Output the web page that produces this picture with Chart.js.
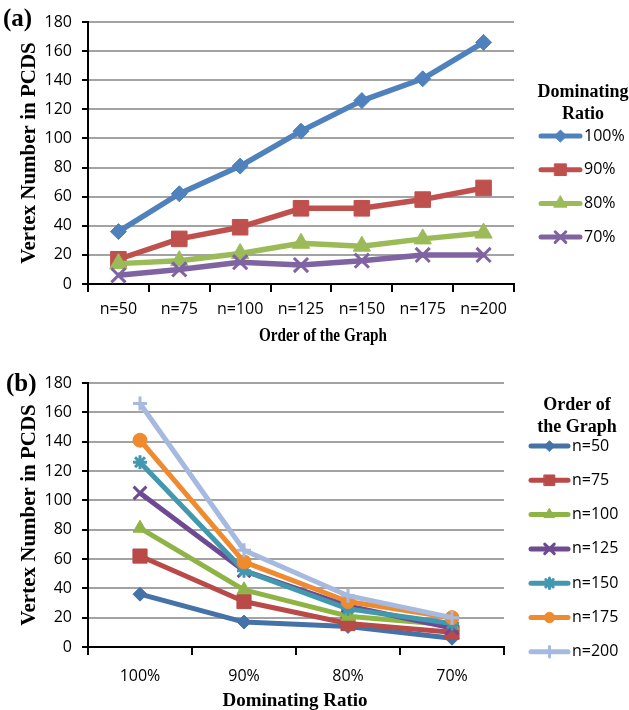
<!DOCTYPE html>
<html>
<head>
<meta charset="utf-8">
<script src="https://cdn.jsdelivr.net/npm/chart.js@4.4.1/dist/chart.umd.min.js"></script>
<style>
  body { margin: 0; background: #fff; }
  .wrap { position: absolute; left: 0; width: 629px; height: 355px; }
</style>
</head>
<body>
<div class="wrap" style="top:0"><canvas id="chartA"></canvas></div>
<div class="wrap" style="top:355px"><canvas id="chartB"></canvas></div>
<script>
// data
const orders = ['n=50', 'n=75', 'n=100', 'n=125', 'n=150', 'n=175', 'n=200'];
const ratios = ['100%', '90%', '80%', '70%'];
const ratio100 = [36, 62, 81, 105, 126, 141, 166];
const ratio90 = [17, 31, 39, 52, 52, 58, 66];
const ratio80 = [14, 16, 21, 28, 26, 31, 35];
const ratio70 = [6, 10, 15, 13, 16, 20, 20];
const yTicks = [0, 20, 40, 60, 80, 100, 120, 140, 160, 180];

const tickFont = { family: '"Open Sans"', size: 16 };
const serif = '"Liberation Serif"';

// legend + panel label + x title, drawn on the canvas
const panelDecor = {
  id: 'panelDecor',
  afterDraw(chart, args, o) {
    const ctx = chart.ctx;
    ctx.save();
    ctx.fillStyle = '#000';
    ctx.textBaseline = 'middle';

    ctx.font = 'bold 25px ' + serif;
    ctx.textAlign = 'left';
    ctx.fillText(o.label, o.labelX, o.labelY);

    ctx.font = 'bold 19px ' + serif;
    ctx.textAlign = 'center';
    ctx.save();
    ctx.translate(o.xTitleX, o.xTitleY);
    ctx.scale(o.xTitleScale, 1);
    ctx.fillText(o.xTitle, 0, 0);
    ctx.restore();

    ctx.font = 'bold 18px ' + serif;
    o.legendTitle.forEach((t, i) => ctx.fillText(t, o.legendTitleX, o.legendTitleY + i * 22));

    ctx.font = '16px "Open Sans"';
    ctx.textAlign = 'left';
    chart.data.datasets.forEach((ds, i) => {
      const y = o.itemY + i * o.itemGap;
      ctx.strokeStyle = ds.borderColor;
      ctx.lineWidth = 5;
      ctx.lineCap = 'round';
      ctx.beginPath();
      ctx.moveTo(o.itemX, y);
      ctx.lineTo(o.itemX + o.lineLen, y);
      ctx.stroke();
      ctx.fillStyle = ds.borderColor;
      ctx.lineWidth = ds.pointBorderWidth;
      Chart.helpers.drawPoint(ctx, {
        pointStyle: ds.pointStyle, radius: ds.pointRadius * 0.75,
        borderWidth: ds.pointBorderWidth, rotation: 0
      }, o.itemX + o.lineLen / 2, y);
      ctx.fillStyle = '#000';
      ctx.fillText(ds.label, o.itemX + o.lineLen + 4, y);
    });
    ctx.restore();
  }
};

function makeSeries(label, data, color, style, radius, bw, width, idx) {
  return {
    label, data,
    borderColor: color, backgroundColor: color,
    borderWidth: width, borderJoinStyle: 'round',
    pointStyle: style, pointRadius: radius, pointHoverRadius: radius,
    pointBackgroundColor: color, pointBorderColor: color, pointBorderWidth: bw,
    order: 10 - idx
  };
}

function axes(xHeight, tickPad) {
  return {
    x: {
      offset: true,
      ticks: { color: '#000', font: tickFont, padding: tickPad, autoSkip: false, maxRotation: 0 },
      grid: { offset: true, drawOnChartArea: false, color: '#000', lineWidth: 2, tickLength: 8 },
      border: { color: '#000', width: 2 },
      afterFit: s => { s.height = xHeight; }
    },
    y: {
      min: 0, max: 180,
      afterBuildTicks: s => { s.ticks = yTicks.map(v => ({ value: v })); },
      ticks: { color: '#000', font: tickFont, padding: 10 },
      grid: { color: '#a3a3a3', lineWidth: 2, tickColor: '#000', tickLength: 6 },
      border: { color: '#000', width: 2 },
      title: {
        display: true, text: 'Vertex Number in PCDS', color: '#000',
        font: { family: serif, size: 21, weight: 'bold' }, padding: { top: 17, bottom: 0 }
      },
      afterFit: s => { s.width = 88; }
    }
  };
}

// (a) one line per dominating ratio
const aColors = ['#4f81bd', '#c0504d', '#9bbb59', '#8064a2'];
const aStyles = ['rectRot', 'rect', 'triangle', 'crossRot'];
const aRadius = [8, 11, 10, 10];
const aBorder = [1, 1, 1, 3];
const aValues = [ratio100, ratio90, ratio80, ratio70];

new Chart('chartA', {
  type: 'line',
  data: {
    labels: orders,
    datasets: ratios.map((r, i) => makeSeries(r, aValues[i], aColors[i], aStyles[i], aRadius[i], aBorder[i], 5.5, i))
  },
  options: {
    responsive: true, maintainAspectRatio: false, animation: false,
    layout: { padding: { top: 22, right: 115, left: 0, bottom: 0 } },
    scales: axes(71, 8),
    plugins: {
      legend: { display: false }, tooltip: { enabled: false },
      panelDecor: {
        label: '(a)', labelX: 3, labelY: 20,
        xTitle: 'Order of the Graph', xTitleX: 323, xTitleY: 336, xTitleScale: 0.8,
        legendTitle: ['Dominating', 'Ratio'], legendTitleX: 583, legendTitleY: 92,
        itemX: 541, lineLen: 39, itemY: 136, itemGap: 33.7
      }
    }
  },
  plugins: [panelDecor]
});

// (b) one line per graph order, same values read the other way
const bColors = ['#4572a7', '#b94a48', '#8fb446', '#6e4a92', '#4198af', '#f08a2e', '#a6b9de'];
const bStyles = ['rectRot', 'rect', 'triangle', 'crossRot', 'star', 'circle', 'cross'];
const bRadius = [7, 10, 8, 9, 7, 7, 7];
const bBorder = [1, 1, 1, 3, 3, 1, 3];

new Chart('chartB', {
  type: 'line',
  data: {
    labels: ratios,
    datasets: orders.map((n, j) => makeSeries(n, aValues.map(s => s[j]), bColors[j], bStyles[j], bRadius[j], bBorder[j], 5, j))
  },
  options: {
    responsive: true, maintainAspectRatio: false, animation: false,
    layout: { padding: { top: 28, right: 125, left: 0, bottom: 0 } },
    scales: axes(63, 12),
    plugins: {
      legend: { display: false }, tooltip: { enabled: false },
      panelDecor: {
        label: '(b)', labelX: 6, labelY: 30,
        xTitle: 'Dominating Ratio', xTitleX: 295, xTitleY: 346, xTitleScale: 1,
        legendTitle: ['Order of', 'the Graph'], legendTitleX: 577, legendTitleY: 50,
        itemX: 531, lineLen: 37, itemY: 91, itemGap: 34.3
      }
    }
  },
  plugins: [panelDecor]
});
</script>
</body>
</html>
